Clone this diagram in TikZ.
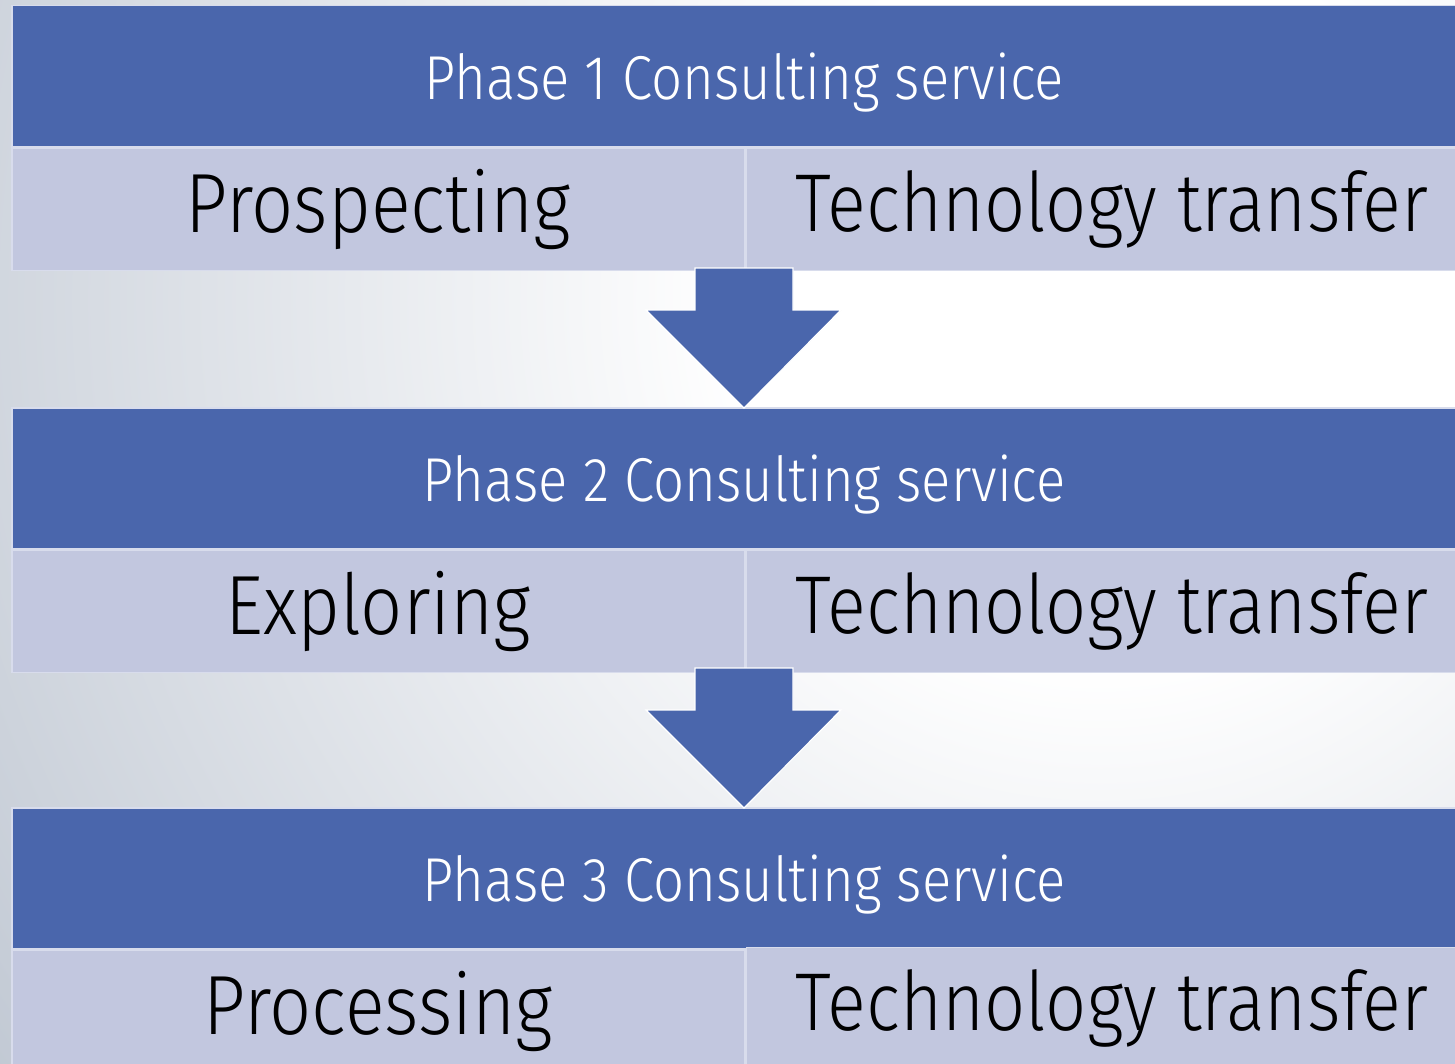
\documentclass[tikz,border=0pt]{standalone}
\usepackage{fontspec}
\setmainfont{Fira Sans Light}[FakeStretch=0.88]
\usetikzlibrary{positioning}
\definecolor{phaseblue}{HTML}{4A66AC}
\definecolor{steplight}{HTML}{C2C7DF}
\definecolor{edgelight}{HTML}{D8DCEC}
\definecolor{bggray}{HTML}{A4AFBF}
\pgfdeclareradialshading{backglow}{\pgfpoint{0bp}{0bp}}{color(0bp)=(white); color(7bp)=(white); color(35bp)=(bggray); color(50bp)=(bggray)}
\begin{document}
\begin{tikzpicture}[x=0.5pt, y=-0.5pt,
    phasebar/.style = {draw=edgelight, line width=0.75pt, fill=phaseblue, text=white, inner sep=0pt,
      minimum width=724.5pt, minimum height=70.5pt, anchor=north west, font=\fontsize{31}{36}\selectfont},
    stepbox/.style = {draw=edgelight, line width=0.75pt, fill=steplight, text=black, inner sep=0pt,
      minimum width=366.5pt, minimum height=61pt, font=\fontsize{42}{48}\selectfont},
    transferbox/.style = {stepbox, minimum width=358pt, font=\fontsize{41}{48}\selectfont},
    flowarrow/.style = {fill=phaseblue, draw=white, line width=0.6pt}]
    % background
    \begin{scope}
      \clip (0,0) rectangle (1455,1064);
      \shade[shading=backglow] (-200,-1000) rectangle (2400,1600);
    \end{scope}
    \useasboundingbox (0,0) rectangle (1455,1064);

    \node[phasebar] (phase1) at (11,5) {\hspace{8pt}\raisebox{-3pt}[\height][\depth]{Phase 1 Consulting service}};
    \node[stepbox, anchor=north west] (prospecting) at (phase1.south west) {Prospecting};
    \node[transferbox, right=0pt of prospecting] (transfer1) {\hspace{8pt}Technology transfer};

    \node[phasebar] (phase2) at (11,407) {\hspace{8pt}\raisebox{-3pt}[\height][\depth]{Phase 2 Consulting service}};
    \node[stepbox, anchor=north west] (exploring) at (phase2.south west) {Exploring};
    \node[transferbox, right=0pt of exploring] (transfer2) {\hspace{8pt}Technology transfer};

    \node[phasebar] (phase3) at (11,807) {\hspace{8pt}\raisebox{-3pt}[\height][\depth]{Phase 3 Consulting service}};
    \node[stepbox, anchor=north west] (processing) at (phase3.south west) {Processing};
    \node[transferbox, right=0pt of processing, yshift=1.5pt] (transfer3) {\hspace{8pt}Technology transfer};

    % arrows between the phases
    \fill[flowarrow] (695,268) -- (793,268) -- (793,310) -- (841,310) -- (744,408) -- (646,310) -- (695,310) -- cycle;
    \fill[flowarrow] (695,668) -- (793,668) -- (793,710) -- (841,710) -- (744,808) -- (646,710) -- (695,710) -- cycle;
\end{tikzpicture}
\end{document}
